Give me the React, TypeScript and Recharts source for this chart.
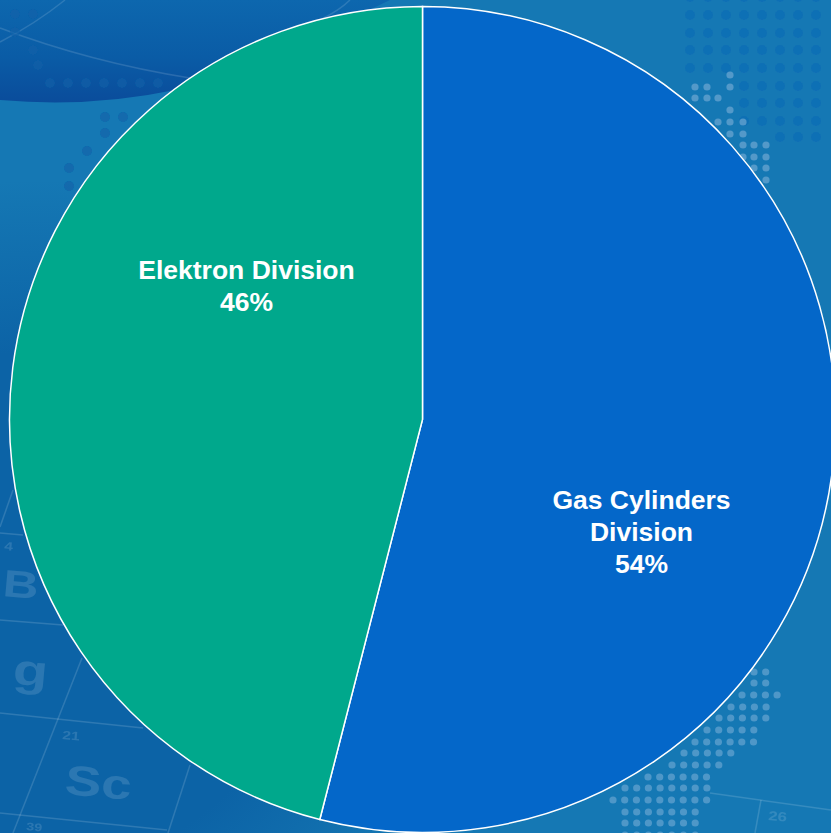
import { PieChart, Pie, Cell } from "recharts";

const divisions = ["Gas Cylinders Division", "Elektron Division"];
const shares = [54, 46];
const sliceColors = ["#0467c9", "#00a88c"];
const labelLines = [["Gas Cylinders", "Division"], ["Elektron Division"]];

const data = divisions.map((name, i) => ({ name, value: shares[i] }));

const WIDTH = 831;
const HEIGHT = 833;

// label anchors relative to the pie centre
const labelOffsets = [
  { dx: 219, dy: 89 },
  { dx: -176, dy: -141 },
];

function SliceLabel(props: any) {
  const { cx, cy, index } = props;
  const lines = [...labelLines[index], `${shares[index]}%`];
  const x = cx + labelOffsets[index].dx;
  const y = cy + labelOffsets[index].dy;
  return (
    <text
      x={x}
      y={y}
      fill="#ffffff"
      textAnchor="middle"
      fontFamily="'Liberation Sans', Arial, sans-serif"
      fontWeight="bold"
      fontSize={26.5}
    >
      {lines.map((line, i) => (
        <tspan key={line} x={x} dy={i === 0 ? 0 : 32}>
          {line}
        </tspan>
      ))}
    </text>
  );
}

// backdrop dot map: [y, first x, last x]
const mapRows = [
  [672, 754, 766],
  [683, 754, 766],
  [695, 742, 777],
  [707, 731, 766],
  [718, 719, 766],
  [730, 707, 754],
  [742, 695, 754],
  [753, 684, 731],
  [765, 672, 719],
  [777, 648, 707],
  [788, 625, 707],
  [800, 613, 707],
  [812, 625, 695],
  [823, 625, 695],
  [835, 625, 695],
];
const upperDots = [
  [730, 75], [695, 87], [707, 87], [730, 87], [695, 98], [707, 98], [718, 98],
  [730, 110], [718, 122], [730, 122], [743, 122], [730, 134], [743, 134],
  [743, 145], [754, 145], [766, 145], [743, 157], [754, 157], [766, 157],
  [754, 168], [766, 168], [766, 180],
];
const darkRows = [
  [-3, 690, 816],
  [15, 690, 816],
  [33, 690, 816],
  [50, 690, 816],
  [68, 690, 816],
  [86, 744, 816],
  [103, 744, 816],
  [121, 744, 816],
  [137, 780, 816],
];
const leftDots = [
  [105, 117], [123, 117], [105, 133], [87, 151], [69, 168], [69, 186],
  [50, 83], [68, 83], [86, 83], [104, 83], [122, 83], [140, 83], [158, 83],
  [15, 14], [33, 14], [15, 32], [33, 50], [38, 65],
];
const gridLines = [
  [0, 533, 23, 535], [0, 620, 63, 625], [0, 713, 143, 728], [0, 813, 167, 830],
  [13, 490, 0, 527], [82, 658, 13, 833], [190, 765, 168, 833],
  [710, 793, 831, 810], [761, 800, 755, 833],
];
const elements = [
  { text: "B", x: 2, y: 596, size: 38 },
  { text: "g", x: 12, y: 684, size: 44 },
  { text: "Sc", x: 64, y: 794, size: 42 },
  { text: "21", x: 62, y: 739, size: 12 },
  { text: "4", x: 4, y: 550, size: 12 },
  { text: "39", x: 26, y: 830, size: 11 },
  { text: "26", x: 768, y: 820, size: 13 },
];

function rowDots(rows: number[][], step: number) {
  const dots: number[][] = [];
  rows.forEach(([y, from, to]) => {
    for (let x = from; x <= to + 0.5; x += step) dots.push([x, y]);
  });
  return dots;
}

function Backdrop() {
  return (
    <svg
      width={WIDTH}
      height={HEIGHT}
      style={{ position: "absolute", left: 0, top: 0 }}
    >
      <defs>
        <linearGradient id="band" x1="0" y1="0" x2="0" y2="1">
          <stop offset="0" stopColor="#0d67ae" />
          <stop offset="0.55" stopColor="#0a5ca6" />
          <stop offset="1" stopColor="#0a4c9b" />
        </linearGradient>
        <filter id="soft" x="-10%" y="-10%" width="120%" height="120%">
          <feGaussianBlur stdDeviation="0.7" />
        </filter>
      </defs>
      <path d="M0,0 L390,0 Q300,45 175,90 Q90,108 0,100 Z" fill="url(#band)" />
      <g filter="url(#soft)">
        <g fill="none" stroke="#ffffff" strokeOpacity={0.13} strokeWidth={1.5}>
          <path d="M0,28 Q90,62 190,78" />
          <path d="M0,42 Q35,24 65,0" />
          <path d="M320,20 Q340,10 350,0" />
        </g>
        {rowDots(darkRows, 18).map(([x, y]) => (
          <circle key={`d${x}-${y}`} cx={x} cy={y} r={5} fill="#0f6fb5" />
        ))}
        {leftDots.map(([x, y]) => (
          <circle key={`l${x}-${y}`} cx={x} cy={y} r={5} fill="#0e5fa8" fillOpacity={0.6} />
        ))}
        {upperDots.map(([x, y]) => (
          <circle key={`u${x}-${y}`} cx={x} cy={y} r={3.6} fill="#5d9fcd" fillOpacity={0.85} />
        ))}
        {rowDots(mapRows, 11.7).map(([x, y]) => (
          <circle key={`m${x}-${y}`} cx={x} cy={y} r={3.6} fill="#5d9fcd" fillOpacity={0.8} />
        ))}
        <g stroke="#ffffff" strokeOpacity={0.14} strokeWidth={1.5}>
          {gridLines.map(([x1, y1, x2, y2]) => (
            <line key={`${x1}-${y1}`} x1={x1} y1={y1} x2={x2} y2={y2} />
          ))}
        </g>
        <g
          fill="#ffffff"
          fillOpacity={0.13}
          fontFamily="'Liberation Sans', Arial, sans-serif"
          fontWeight="bold"
        >
          {elements.map((el) => (
            <text
              key={el.text}
              transform={`translate(${el.x} ${el.y}) rotate(5) scale(1.3 1)`}
              fontSize={el.size}
            >
              {el.text}
            </text>
          ))}
        </g>
      </g>
    </svg>
  );
}

export default function App() {
  return (
    <div
      style={{
        position: "absolute",
        left: 0,
        top: 0,
        width: WIDTH,
        height: HEIGHT,
        overflow: "hidden",
        background:
          "radial-gradient(ellipse 440px 430px at 40px 610px, #0c63a6 0%, #0c63a6 60%, rgba(12,99,166,0) 100%), #1578b4",
      }}
    >
      <Backdrop />
      <div style={{ position: "absolute", left: 0, top: 0 }}>
        <PieChart width={WIDTH} height={HEIGHT} margin={{ top: 0, right: 0, bottom: 0, left: 0 }}>
          <Pie
            data={data}
            dataKey="value"
            nameKey="name"
            cx={422.5}
            cy={419.5}
            innerRadius={0}
            outerRadius={413}
            startAngle={90}
            endAngle={-270}
            stroke="#ffffff"
            strokeWidth={1.5}
            label={SliceLabel}
            labelLine={false}
            isAnimationActive={false}
          >
            {data.map((d, i) => (
              <Cell key={d.name} fill={sliceColors[i]} />
            ))}
          </Pie>
        </PieChart>
      </div>
    </div>
  );
}
